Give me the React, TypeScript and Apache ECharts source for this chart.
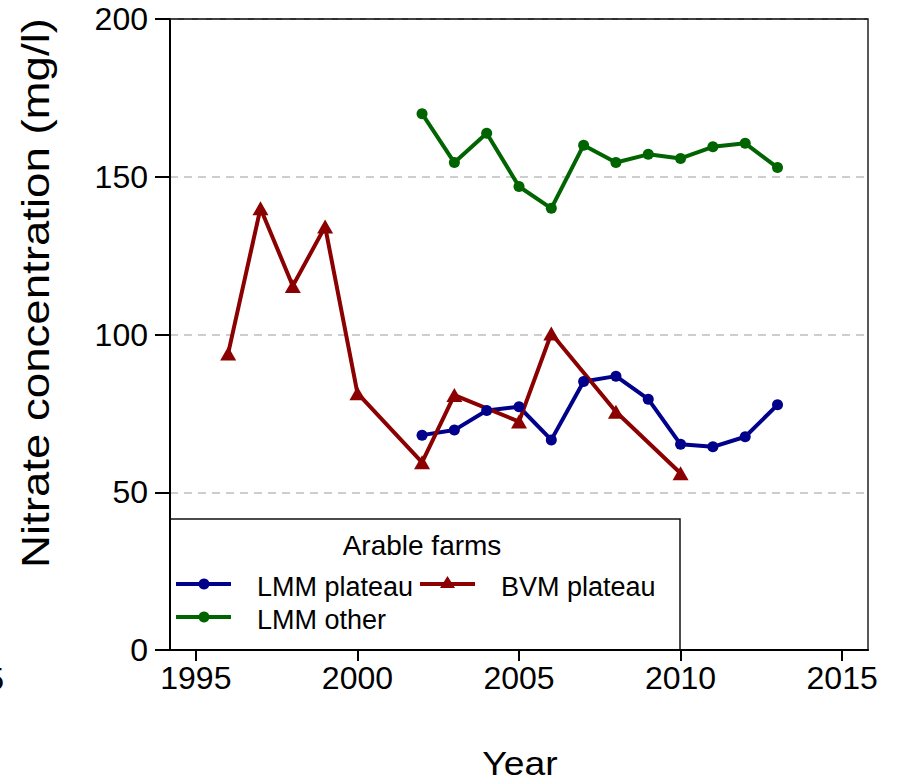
import React, { useEffect, useRef } from "react";
import * as echarts from "echarts";

// ---- data ----
const lmmYears = [2002, 2003, 2004, 2005, 2006, 2007, 2008, 2009, 2010, 2011, 2012, 2013];
const lmmPlateau = [68.1, 69.7, 75.9, 77.1, 66.6, 85.1, 86.8, 79.5, 65.2, 64.4, 67.6, 77.7];
const lmmOther = [170, 154.5, 163.8, 146.9, 140, 160, 154.5, 157.1, 155.8, 159.5, 160.6, 152.9];
const bvmYears = [1996, 1997, 1998, 1999, 2000, 2002, 2003, 2005, 2006, 2008, 2010];
const bvmPlateau = [94.0, 140.0, 115.4, 134.2, 81.4, 59.5, 80.8, 72.4, 100.3, 75.5, 56.0];
const xTickValues = [1995, 2000, 2005, 2010, 2015];
const yTickValues = [0, 50, 100, 150, 200];

const legendTitle = "Arable farms";
const seriesNames = ["LMM plateau", "BVM plateau", "LMM other"];
const yAxisTitle = "Nitrate concentration (mg/l)";
const xAxisTitle = "Year";

const BLUE = "#00008b";
const RED = "#8b0000";
const GREEN = "#006400";
const FONT = "'Liberation Sans', Arial, sans-serif";

const pairs = (xs: number[], ys: number[]) => xs.map((x, i) => [x, ys[i]]);

export default function App() {
  const ref = useRef<HTMLDivElement>(null);

  useEffect(() => {
    if (!ref.current) return;
    const chart = echarts.init(ref.current, null, { renderer: "svg" });

    chart.setOption({
      animation: false,
      backgroundColor: "#fff",
      grid: {
        left: 170,
        top: 19,
        right: 29,
        bottom: 132,
        show: true,
        borderColor: "#222",
        borderWidth: 1.5,
      },
      xAxis: {
        type: "value",
        min: 1994.2,
        max: 2015.8,
        axisLine: { show: true, lineStyle: { color: "#000", width: 2 } },
        axisTick: {
          show: true,
          customValues: xTickValues,
          length: 11,
          lineStyle: { color: "#000", width: 2 },
        },
        axisLabel: {
          customValues: xTickValues,
          formatter: (v: number) => String(v),
          fontSize: 32,
          fontFamily: FONT,
          color: "#000",
          margin: 12,
        },
        splitLine: { show: false },
      },
      yAxis: {
        type: "value",
        min: yTickValues[0],
        max: yTickValues[yTickValues.length - 1],
        interval: 50,
        axisLine: { show: true, lineStyle: { color: "#000", width: 2 } },
        axisTick: { show: true, length: 15, lineStyle: { color: "#000", width: 2 } },
        axisLabel: {
          fontSize: 32,
          fontFamily: FONT,
          color: "#000",
          margin: 22,
        },
        splitLine: {
          show: true,
          lineStyle: { color: "#bdbdbd", width: 1.5, type: [8, 6] },
        },
      },
      series: [
        {
          type: "line",
          name: seriesNames[0],
          data: pairs(lmmYears, lmmPlateau),
          symbol: "circle",
          symbolSize: 11,
          z: 3,
          itemStyle: { color: BLUE },
          lineStyle: { width: 4, color: BLUE },
        },
        {
          type: "line",
          name: seriesNames[1],
          data: pairs(bvmYears, bvmPlateau),
          symbol: "triangle",
          symbolSize: [16, 14],
          z: 3,
          itemStyle: { color: RED },
          lineStyle: { width: 4, color: RED },
        },
        {
          type: "line",
          name: seriesNames[2],
          data: pairs(lmmYears, lmmOther),
          symbol: "circle",
          symbolSize: 11,
          z: 3,
          itemStyle: { color: GREEN },
          lineStyle: { width: 4, color: GREEN },
        },
      ],
      graphic: [
        // solid top border over the 200 split line
        {
          type: "line",
          z: 5,
          shape: { x1: 170, y1: 19, x2: 868, y2: 19 },
          style: { stroke: "#222", lineWidth: 1.5 },
        },
        // y-axis title
        {
          type: "text",
          x: 36,
          y: 293,
          rotation: Math.PI / 2,
          scaleX: 1.2,
          style: {
            text: yAxisTitle,
            fontSize: 38,
            fontFamily: FONT,
            fill: "#000",
            align: "center",
            verticalAlign: "middle",
          },
        },
        // x-axis title
        {
          type: "text",
          x: 520,
          y: 763,
          scaleX: 1.13,
          style: {
            text: xAxisTitle,
            fontSize: 33,
            fontFamily: FONT,
            fill: "#000",
            align: "center",
            verticalAlign: "middle",
          },
        },
        // clipped fragment at the left edge (as in the reference)
        {
          type: "text",
          x: 4,
          y: 679,
          style: {
            text: "5",
            fontSize: 32,
            fontFamily: FONT,
            fill: "#000",
            align: "right",
            verticalAlign: "middle",
          },
        },
        // legend box
        {
          type: "group",
          z: 10,
          children: [
            {
              type: "rect",
              shape: { x: 170, y: 519, width: 510, height: 131 },
              style: { fill: "#fff", stroke: "#111", lineWidth: 1.5 },
            },
            {
              type: "text",
              x: 422,
              y: 545,
              style: {
                text: legendTitle,
                fontSize: 28,
                fontFamily: FONT,
                fill: "#000",
                align: "center",
                verticalAlign: "middle",
              },
            },
            {
              type: "line",
              shape: { x1: 176, y1: 584, x2: 231, y2: 584 },
              style: { stroke: BLUE, lineWidth: 4 },
            },
            {
              type: "circle",
              shape: { cx: 204, cy: 584, r: 5.5 },
              style: { fill: BLUE },
            },
            {
              type: "text",
              x: 257,
              y: 587,
              style: {
                text: seriesNames[0],
                fontSize: 27,
                fontFamily: FONT,
                fill: "#000",
                align: "left",
                verticalAlign: "middle",
              },
            },
            {
              type: "line",
              shape: { x1: 420, y1: 584, x2: 475, y2: 584 },
              style: { stroke: RED, lineWidth: 4 },
            },
            {
              type: "polygon",
              shape: { points: [[447.5, 576], [440, 588], [455, 588]] },
              style: { fill: RED },
            },
            {
              type: "text",
              x: 501,
              y: 587,
              style: {
                text: seriesNames[1],
                fontSize: 27,
                fontFamily: FONT,
                fill: "#000",
                align: "left",
                verticalAlign: "middle",
              },
            },
            {
              type: "line",
              shape: { x1: 176, y1: 617, x2: 231, y2: 617 },
              style: { stroke: GREEN, lineWidth: 4 },
            },
            {
              type: "circle",
              shape: { cx: 204, cy: 617, r: 5.5 },
              style: { fill: GREEN },
            },
            {
              type: "text",
              x: 257,
              y: 620,
              style: {
                text: seriesNames[2],
                fontSize: 27,
                fontFamily: FONT,
                fill: "#000",
                align: "left",
                verticalAlign: "middle",
              },
            },
          ],
        },
      ],
    });

    return () => chart.dispose();
  }, []);

  return (
    <div
      ref={ref}
      style={{ position: "fixed", left: 0, top: 0, width: 897, height: 782 }}
    />
  );
}
